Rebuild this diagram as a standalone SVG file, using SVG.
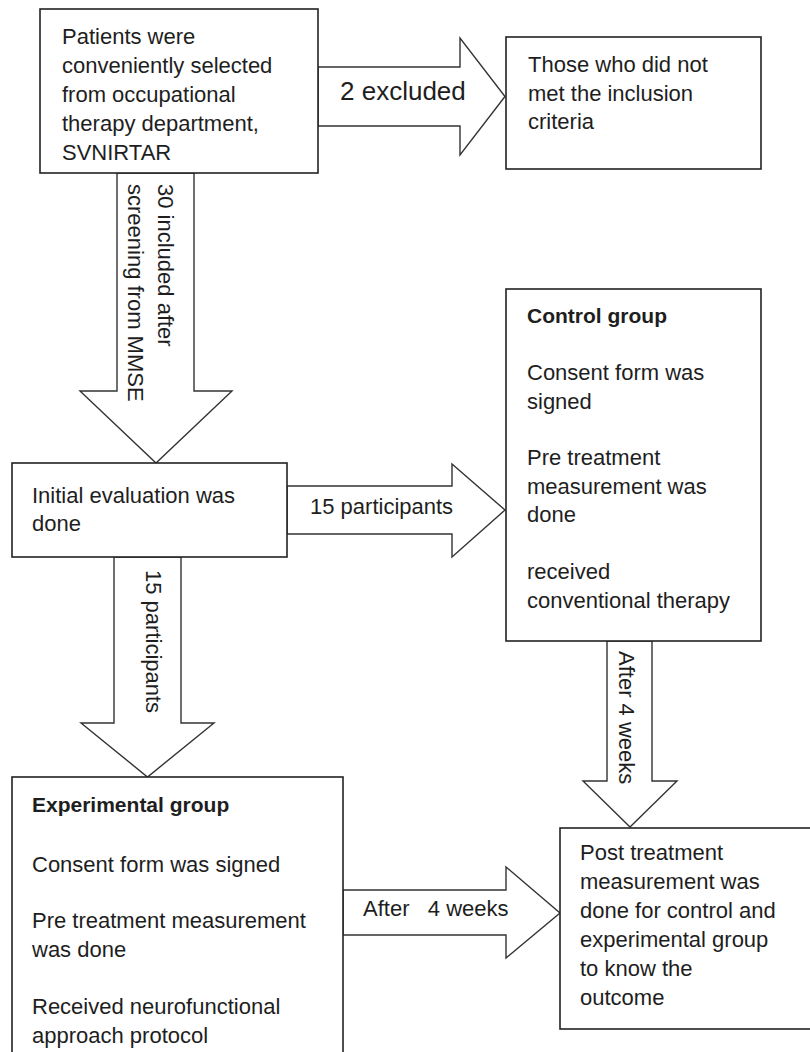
<svg xmlns="http://www.w3.org/2000/svg" width="810" height="1052" viewBox="0 0 810 1052">
<style>
  .box { fill: #ffffff; stroke: #222222; stroke-width: 1.6; }
  .arr { fill: #ffffff; stroke: #333333; stroke-width: 1.4; stroke-linejoin: miter; }
  text { font-family: "Liberation Sans", Arial, sans-serif; font-size: 22px; fill: #1e1e1e; }
  .b { font-weight: bold; font-size: 21px; }
  .big { font-size: 26px; }
</style>
<rect width="810" height="1052" fill="#ffffff"/>

<g id="connectors">
  <polygon class="arr" points="318,67 460,67 460,38 505,96.5 460,155 460,126 318,126"/>
  <polygon class="arr" points="117,173 117,391 80,391 156,463 232,391 194,391 194,173"/>
  <polygon class="arr" points="287,486 452,486 452,464 505,510 452,557 452,534 287,534"/>
  <polygon class="arr" points="114,557 114,723 81,723 147.5,777 214,723 181,723 181,557"/>
  <polygon class="arr" points="607,641 607,781 583,781 630,827 677,781 652,781 652,641"/>
  <polygon class="arr" points="343,890 506,890 506,867 560,913 506,958 506,935 343,935"/>
  <text class="big" x="340" y="100">2 excluded</text>
  <g transform="translate(158,184) rotate(90)">
    <text x="0" y="0">30 included after</text>
    <text x="0" y="30">screening from MMSE</text>
  </g>
  <text x="310" y="514">15 participants</text>
  <text transform="translate(146,570) rotate(90)" x="0" y="0">15 participants</text>
  <text transform="translate(619,651) rotate(90)" x="0" y="0">After 4 weeks</text>
  <text x="363" y="916" xml:space="preserve" style="white-space:pre">After   4 weeks</text>
</g>

<g id="node-patients">
  <rect class="box" x="40" y="9" width="278" height="164"/>
  <text x="62" y="44">Patients were</text>
  <text x="62" y="73">conveniently selected</text>
  <text x="62" y="102">from occupational</text>
  <text x="62" y="131">therapy department,</text>
  <text x="62" y="160">SVNIRTAR</text>
</g>

<g id="node-excluded">
  <rect class="box" x="506" y="37" width="255" height="132"/>
  <text x="528" y="72">Those who did not</text>
  <text x="528" y="100.5">met the inclusion</text>
  <text x="528" y="129">criteria</text>
</g>

<g id="node-initial">
  <rect class="box" x="12" y="463" width="275" height="94"/>
  <text x="32" y="503">Initial evaluation was</text>
  <text x="32" y="531">done</text>
</g>

<g id="node-control">
  <rect class="box" x="506" y="289" width="255" height="352"/>
  <text class="b" x="527" y="323">Control group</text>
  <text x="527" y="380">Consent form was</text>
  <text x="527" y="409">signed</text>
  <text x="527" y="465">Pre treatment</text>
  <text x="527" y="494">measurement was</text>
  <text x="527" y="522">done</text>
  <text x="527" y="579">received</text>
  <text x="527" y="608">conventional therapy</text>
</g>

<g id="node-experimental">
  <rect class="box" x="12" y="777" width="331" height="290"/>
  <text class="b" x="32" y="812">Experimental group</text>
  <text x="32" y="872">Consent form was signed</text>
  <text x="32" y="928">Pre treatment measurement</text>
  <text x="32" y="957">was done</text>
  <text x="32" y="1014">Received neurofunctional</text>
  <text x="32" y="1043">approach protocol</text>
</g>

<g id="node-post">
  <rect class="box" x="560" y="828" width="260" height="201"/>
  <text x="580" y="860">Post treatment</text>
  <text x="580" y="889">measurement was</text>
  <text x="580" y="918">done for control and</text>
  <text x="580" y="947">experimental group</text>
  <text x="580" y="976">to know the</text>
  <text x="580" y="1005">outcome</text>
</g>
</svg>
